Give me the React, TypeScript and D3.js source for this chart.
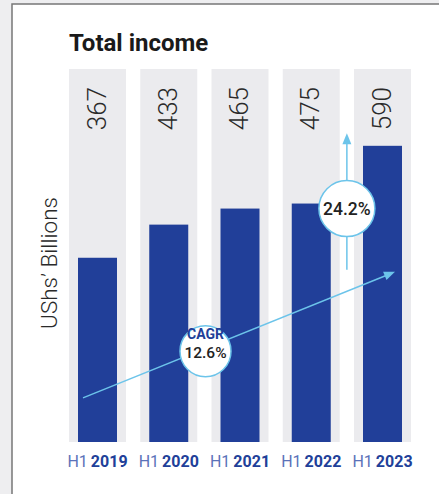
import React from "react";
import * as d3 from "d3";

const years = ["2019", "2020", "2021", "2022", "2023"];
const prefix = "H1";
const values = [367, 433, 465, 475, 590];
const title = "Total income";
const yLabel = "UShs\u2019 Billions";
const cagrLabel = "CAGR";
const cagrValue = "12.6%";
const growthValue = "24.2%";

const W = 439;
const H = 494;

export default function App() {
  const x = d3.scaleBand<string>().domain(years).range([69, 411]).paddingInner(0.2).paddingOuter(0);
  const y = d3.scaleLinear().domain([0, 743]).range([442, 69]);
  const inset = 9;
  const blue = "#213f99";
  const light = "#6cc4ea";
  const bw = x.bandwidth();

  // CAGR arrow endpoints (annotation)
  const ax1 = (x("2019") as number) + 14;
  const ay1 = y(88);
  const ax2 = (x("2023") as number) + 41;
  const ay2 = y(339);
  const cx = 205.5, cy = y(181);
  // vertical growth arrow
  const vx = ((x("2022") as number) + bw + (x("2023") as number)) / 2;
  const vy1 = y(343);
  const vy2 = y(615);
  const vcy = y(465);

  const ang = Math.atan2(ay2 - ay1, ax2 - ax1);
  const head = (tx: number, ty: number, a: number, len = 11, half = 4.5) => {
    const bx = tx - len * Math.cos(a);
    const by = ty - len * Math.sin(a);
    const px = -Math.sin(a) * half;
    const py = Math.cos(a) * half;
    return `M${tx},${ty}L${bx + px},${by + py}L${bx - px},${by - py}Z`;
  };

  return (
    <svg width={W} height={H} style={{ position: "absolute", left: 0, top: 0 }} fontFamily="Roboto, 'Open Sans', sans-serif">
      <rect x={0} y={0} width={W} height={H} fill="#eeeef0" />
      <rect x={12} y={4} width={W} height={H} fill="#fff" stroke="#777" strokeWidth={1.5} />
      <text x={69} y={51} fontSize={24} fontWeight={700} fill="#1a1a1a" fontFamily="Roboto, sans-serif">{title}</text>
      {years.map((yr, i) => {
        const x0 = x(yr) as number;
        return (
          <g key={yr}>
            <rect x={x0} y={y(743)} width={bw} height={y(0) - y(743)} fill="#ebebee" />
            <rect x={x0 + inset} y={y(values[i])} width={bw - 2 * inset} height={y(0) - y(values[i])} fill={blue} />
            <text
              transform={`translate(${x0 + bw / 2 + 8},${87}) rotate(-90)`}
              textAnchor="end"
              fontSize={26}
              fontWeight={300}
              fill="#2a2a2a"
            >
              {values[i]}
            </text>
            <text x={x0 + bw / 2} y={467} textAnchor="middle" fontSize={16}>
              <tspan fill="#5b72b9" fontWeight={400}>{prefix}</tspan>
              <tspan fill={blue} fontWeight={700} dx={3}>{yr}</tspan>
            </text>
          </g>
        );
      })}
      <text transform={`translate(57,263) rotate(-90)`} textAnchor="middle" fontSize={22.5} fontWeight={300} fill="#2a2a2a">
        {yLabel}
      </text>
      {/* CAGR arrow */}
      <line x1={ax1} y1={ay1} x2={ax2 - 9 * Math.cos(ang)} y2={ay2 - 9 * Math.sin(ang)} stroke={light} strokeWidth={1.5} />
      <path d={head(ax2, ay2, ang)} fill={light} />
      <circle cx={cx} cy={cy} r={25.5} fill="#fff" stroke={light} strokeWidth={1.5} />
      <text x={cx} y={cy - 12} textAnchor="middle" fontSize={14} fontWeight={700} fill={blue}>{cagrLabel}</text>
      <text x={cx} y={cy + 7} textAnchor="middle" fontSize={15.5} fontWeight={500} fill="#222">{cagrValue}</text>
      {/* growth arrow */}
      <line x1={vx} y1={vy1} x2={vx} y2={vy2 + 9} stroke={light} strokeWidth={1.5} />
      <path d={head(vx, vy2, -Math.PI / 2)} fill={light} />
      <circle cx={vx} cy={vcy} r={28} fill="#fff" stroke={light} strokeWidth={1.5} />
      <text x={vx} y={vcy + 6.5} textAnchor="middle" fontSize={17.5} fontWeight={500} fill="#222">{growthValue}</text>
    </svg>
  );
}
